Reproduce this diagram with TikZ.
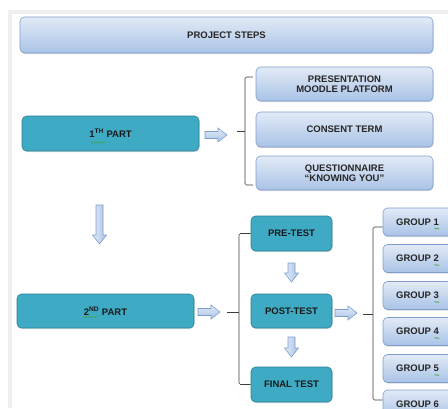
\documentclass[tikz,border=0pt]{standalone}
\usepackage{fontspec}
\setmainfont{Liberation Sans}
\usetikzlibrary{shadows,decorations.pathmorphing,calc}

\definecolor{lightTop}{HTML}{E2EAF6}
\definecolor{lightBot}{HTML}{A9C3E6}
\definecolor{lightEdge}{HTML}{7D9DCC}
\definecolor{tealFill}{HTML}{3EAAC4}
\definecolor{tealEdge}{HTML}{2B7F93}
\definecolor{braceCol}{HTML}{3C3C3C}
\definecolor{frameGrey}{HTML}{EFEFEF}
\definecolor{squigGreen}{HTML}{3FA33F}

% horizontal block arrow: start x, end x, centre y
\newcommand{\blockright}[3]{%
  \path[blockarrow] (#1,#3-3.5) -- (#2-9,#3-3.5) -- (#2-9,#3-7) -- (#2,#3)
    -- (#2-9,#3+7) -- (#2-9,#3+3.5) -- (#1,#3+3.5) -- cycle;}
% vertical block arrow: centre x, start y, end y
\newcommand{\blockdown}[3]{%
  \path[blockarrowv] (#1-3.5,#2) -- (#1-3.5,#3-9) -- (#1-7,#3-9) -- (#1,#3)
    -- (#1+7,#3-9) -- (#1+3.5,#3-9) -- (#1+3.5,#2) -- cycle;}

\begin{document}
\begin{tikzpicture}[x=1pt,y=-1pt,
  every node/.style={font=\fontsize{9.5}{10.5}\selectfont\bfseries, align=center, inner sep=0pt},
  lightbox/.style={rounded corners=4.5pt, top color=lightTop, bottom color=lightBot,
    draw=lightEdge, line width=0.6pt, text=black!85,
    drop shadow={shadow xshift=0.5pt, shadow yshift=-1.2pt, opacity=0.25, fill=black!60}},
  tealbox/.style={rounded corners=4.5pt, fill=tealFill, draw=tealEdge, line width=0.6pt,
    text=black!90,
    drop shadow={shadow xshift=0.5pt, shadow yshift=-1.2pt, opacity=0.2, fill=black!60}},
  blockarrow/.style={draw=lightEdge, line width=0.6pt, top color=lightTop, bottom color=lightBot},
  blockarrowv/.style={draw=lightEdge, line width=0.6pt, left color=lightTop, right color=lightBot},
  bracket/.style={draw=braceCol, line width=0.6pt, rounded corners=1.5pt},
  squig/.style={draw=squigGreen, line width=0.4pt,
    decorate, decoration={snake, amplitude=0.6pt, segment length=2pt}}]

\useasboundingbox (0,0) rectangle (448,408);
\clip (0,0) rectangle (448,408);

% page frame strips
\fill[frameGrey] (8,10) rectangle (448,14);
\fill[frameGrey] (8,10) rectangle (12,408);

% title
\node[lightbox, minimum width=413pt, minimum height=36pt] (title) at (226.5,35) {PROJECT STEPS};

% first part
\node[tealbox, minimum width=177pt, minimum height=35pt] (p1) at (110.5,133.5) {1\textsuperscript{TH} PART};
\node[lightbox, minimum width=177pt, minimum height=34pt] (a1) at (344.5,84) {PRESENTATION\\MOODLE PLATFORM};
\node[lightbox, minimum width=177pt, minimum height=35pt] (a2) at (344.5,129.5) {CONSENT TERM};
\node[lightbox, minimum width=177pt, minimum height=34pt] (a3) at (344.5,173) {QUESTIONNAIRE\\“KNOWING YOU”};

% second part
\node[tealbox, minimum width=177pt, minimum height=34pt] (p2) at (105.5,311) {2\textsuperscript{ND} PART};
\node[tealbox, minimum width=81pt, minimum height=35pt] (pre) at (291.5,233.5) {PRE-TEST};
\node[tealbox, minimum width=81pt, minimum height=34pt] (post) at (291.5,311) {POST-TEST};
\node[tealbox, minimum width=81pt, minimum height=35pt] (final) at (291.5,384.5) {FINAL TEST};

% groups
\foreach \i/\y in {1/222,2/258.5,3/295.5,4/331.5,5/368.5,6/404}{
  \node[lightbox, minimum width=69pt, minimum height=28pt] (g\i) at (417.5,\y) {GROUP \i};
}

% block arrows
\blockright{205}{227}{135}
\blockdown{99.5}{205}{244}
\blockright{198}{220}{312}
\blockdown{291.5}{263}{282}
\blockdown{291.5}{337}{357}
\blockright{335}{357}{313}

% brackets
\coordinate (b1) at (245,131);
\draw[bracket] ($(b1)+(8,-54)$) -- ($(b1)+(0,-54)$) -- ($(b1)+(0,54)$) -- ($(b1)+(8,54)$);
\draw[braceCol, line width=0.6pt] ($(b1)+(-8,0)$) -- (b1);

\coordinate (b2) at (239,312);
\draw[bracket] (pre.west) -| (b2) |- (final.west);
\draw[braceCol, line width=0.6pt] ($(b2)+(-12,0)$) -- (b2);

\coordinate (b3) at (373,314);
\draw[bracket] ($(g1.west)+(0,5)$) -| (b3) |- ($(g6.west)+(0,-4)$);
\draw[braceCol, line width=0.6pt] ($(b3)+(-10,0)$) -- (b3);

% spell-check squiggles
\draw[squig] ($(p1.center)+(-19,9)$) -- ++(14,0);
\draw[squig] ($(p2.center)+(-22,6)$) -- ++(14,0);
\foreach \i in {1,...,6}{
  \draw[squig] ($(g\i.center)+(17,6.5)$) -- ++(5,0);
}
\end{tikzpicture}
\end{document}
